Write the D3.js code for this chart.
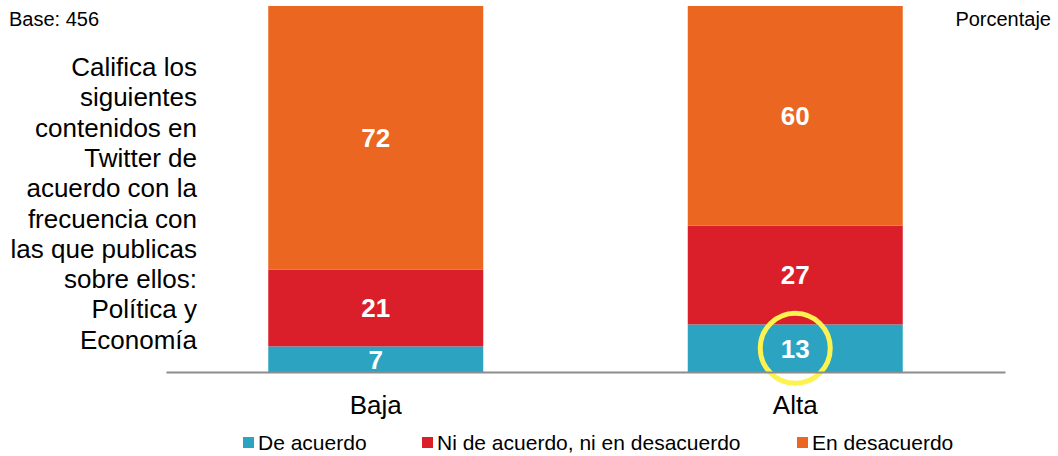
<!DOCTYPE html>
<html>
<head>
<meta charset="utf-8">
<script src="https://cdn.jsdelivr.net/npm/d3@7"></script>
<style>
  html, body { margin: 0; padding: 0; background: #fff; }
  svg { display: block; font-family: "Liberation Sans", Arial, sans-serif; }
</style>
</head>
<body>
<svg id="chart" width="1058" height="456"></svg>
<script>
// Frequency of posting about politics & economy on Twitter
const categories = ["Baja", "Alta"];
const seriesNames = ["De acuerdo", "Ni de acuerdo, ni en desacuerdo", "En desacuerdo"];
const deAcuerdo = [7, 13];
const niNi = [21, 27];
const enDesacuerdo = [72, 60];
const colors = ["#2ca3c1", "#da1f2a", "#eb6620"];
const titleLines = ["Califica los", "siguientes", "contenidos en", "Twitter de",
  "acuerdo con la", "frecuencia con", "las que publicas", "sobre ellos:",
  "Política y", "Economía"];
const highlighted = { category: "Alta", series: 0 };

const rows = categories.map((c, i) => ({
  cat: c,
  "De acuerdo": deAcuerdo[i],
  "Ni de acuerdo, ni en desacuerdo": niNi[i],
  "En desacuerdo": enDesacuerdo[i]
}));
const stacked = d3.stack().keys(seriesNames)(rows);

const svg = d3.select("#chart");

const x = d3.scaleBand().domain(categories).range([166, 1005])
  .paddingInner(0.4875).paddingOuter(0.24375);
const y = d3.scaleLinear().domain([0, 100]).range([372, 6]);

// stacked bars
const layers = svg.append("g").selectAll("g").data(stacked).join("g")
  .attr("fill", (d, i) => colors[i]);
layers.selectAll("rect").data(d => d).join("rect")
  .attr("x", d => x(d.data.cat))
  .attr("width", x.bandwidth())
  .attr("y", d => y(d[1]))
  .attr("height", d => y(d[0]) - y(d[1]));

// value labels
layers.selectAll("text").data(d => d).join("text")
  .attr("x", d => x(d.data.cat) + x.bandwidth() / 2)
  .attr("y", d => (y(d[0]) + y(d[1])) / 2)
  .attr("dy", "0.36em")
  .attr("text-anchor", "middle")
  .attr("fill", "#fff")
  .attr("font-weight", "bold")
  .attr("font-size", 26)
  .text(d => d[1] - d[0]);

// highlight ring
const hs = stacked[highlighted.series].find(d => d.data.cat === highlighted.category);
svg.append("circle")
  .attr("cx", x(highlighted.category) + x.bandwidth() / 2)
  .attr("cy", (y(hs[0]) + y(hs[1])) / 2)
  .attr("r", 35)
  .attr("fill", "none")
  .attr("stroke", "#fcf250")
  .attr("stroke-width", 5);

// category axis
const xAxis = svg.append("g").attr("transform", "translate(0,372)")
  .call(d3.axisBottom(x).tickSize(0).tickPadding(0));
xAxis.select(".domain").attr("stroke", "#8c8c8c").attr("stroke-width", 2);
xAxis.selectAll("text")
  .attr("y", 42).attr("dy", 0)
  .attr("font-size", 26).attr("fill", "#000")
  .attr("font-family", "Liberation Sans, Arial, sans-serif");

// left title
svg.append("text")
  .attr("text-anchor", "end")
  .attr("font-size", 26)
  .attr("fill", "#000")
  .selectAll("tspan").data(titleLines).join("tspan")
  .attr("x", 197)
  .attr("y", (d, i) => 76 + i * 30.3)
  .text(d => d);

// corner notes
svg.append("text").attr("x", 9).attr("y", 25.5).attr("font-size", 20)
  .attr("fill", "#000").text("Base: 456");
svg.append("text").attr("x", 1051).attr("y", 25.5).attr("font-size", 20)
  .attr("text-anchor", "end").attr("fill", "#000").text("Porcentaje");

// legend
const legendX = [243, 422, 797];
const legend = svg.append("g").selectAll("g").data(seriesNames).join("g")
  .attr("transform", (d, i) => `translate(${legendX[i]},450)`);
legend.append("rect").attr("x", 0).attr("y", -13).attr("width", 11).attr("height", 11)
  .attr("fill", (d, i) => colors[i]);
legend.append("text").attr("x", 15).attr("font-size", 21)
  .attr("fill", "#000").text(d => d);
</script>
</body>
</html>
